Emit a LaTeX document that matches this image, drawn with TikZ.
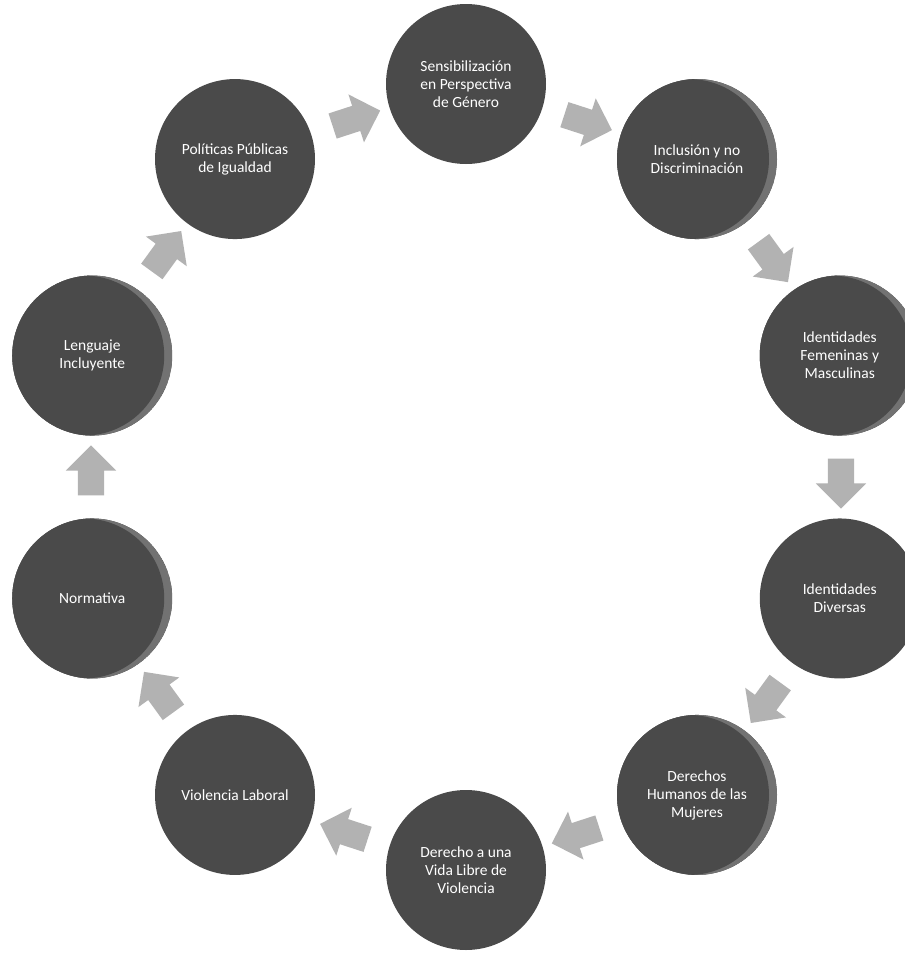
\documentclass[tikz,border=0pt]{standalone}
\usepackage{fontspec}
\setmainfont{Carlito}
\usetikzlibrary{shapes.arrows,calc}
\definecolor{cdark}{HTML}{4A4A4A}
\definecolor{clight}{HTML}{727272}
\definecolor{carrow}{HTML}{B2B2B2}
\begin{document}
\begin{tikzpicture}[x=1pt,y=1pt,
  bubble/.style={circle, minimum size=160pt, inner sep=0pt, fill=cdark, text=white,
    align=center, font=\fontsize{15.5}{18}\selectfont},
  shinybubble/.style={bubble,
    path picture={\fill[clight] (path picture bounding box.center) circle (80pt);
      \fill[cdark] ([xshift=-8pt]path picture bounding box.center) circle (80pt);}},
  cyclearrow/.style={single arrow, fill=carrow, minimum width=46pt, minimum height=50pt,
    single arrow head extend=12pt, single arrow head indent=0pt,
    inner xsep=0pt, inner ysep=13pt}
]
\clip (0,-954) rectangle (905,0);
\fill[white] (0,-954) rectangle (905,0);
\coordinate (o) at (466,-477);
\node[bubble]      (c1)  at ($(o)+(90:393)$)   {Sensibilización\\en Perspectiva\\de Género};
\node[shinybubble] (c2)  at ($(o)+(54:393)$)   {Inclusión y no\\Discriminación};
\node[shinybubble] (c3)  at ($(o)+(18:393)$)   {Identidades\\Femeninas y\\Masculinas};
\node[bubble]      (c4)  at ($(o)+(-18:393)$)  {Identidades\\Diversas};
\node[shinybubble] (c5)  at ($(o)+(-54:393)$)  {Derechos\\Humanos de las\\Mujeres};
\node[bubble]      (c6)  at ($(o)+(-90:393)$)  {Derecho a una\\Vida Libre de\\Violencia};
\node[bubble]      (c7)  at ($(o)+(-126:393)$) {Violencia Laboral};
\node[shinybubble] (c8)  at ($(o)+(-162:393)$) {Normativa};
\node[shinybubble] (c9)  at ($(o)+(162:393)$)  {Lenguaje\\Incluyente};
\node[bubble]      (c10) at ($(o)+(126:393)$)  {Políticas Públicas\\de Igualdad};
\foreach \t [count=\i] in {72,36,0,-36,-72,-108,-144,-180,-216,-252}
  \node[cyclearrow, rotate=\t-90] (a\i) at ($(o)+(\t:375)$) {};
\end{tikzpicture}
\end{document}
